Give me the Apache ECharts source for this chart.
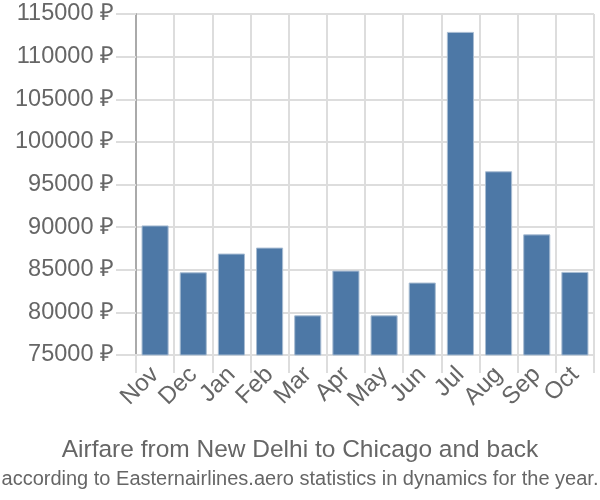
<!DOCTYPE html>
<html>
<head>
<meta charset="utf-8">
<script src="https://cdn.jsdelivr.net/npm/echarts@6/dist/echarts.min.js"></script>
<style>html,body{margin:0;padding:0;background:#fff;}#c{width:600px;height:500px;}</style>
</head>
<body>
<div id="c"></div>
<script>
const categories = ['Nov','Dec','Jan','Feb','Mar','Apr','May','Jun','Jul','Aug','Sep','Oct'];
const fares = [90200, 84700, 86900, 87600, 79650, 84900, 79650, 83500, 112900, 96550, 89150, 84750];
const yMin = 75000, yMax = 115000, yStep = 5000;
const titleText = 'Airfare from New Delhi to Chicago and back';
const subtitleText = 'according to Easternairlines.aero statistics in dynamics for the year.';

const chart = echarts.init(document.getElementById('c'), null, {renderer: 'canvas'});
chart.setOption({
  animation: false,
  textStyle: {fontFamily: 'Liberation Sans, Arial, sans-serif'},
  title: {
    text: titleText,
    subtext: subtitleText,
    left: 'center',
    top: 433,
    itemGap: 6,
    textStyle: {fontSize: 24.5, fontWeight: 'normal', color: '#666'},
    subtextStyle: {fontSize: 20, color: '#666'}
  },
  grid: {left: 136, right: 6, top: 14, bottom: 145, containLabel: false},
  xAxis: {
    type: 'category',
    data: categories,
    axisLine: {show: true, lineStyle: {color: '#ddd', width: 2}},
    axisTick: {show: true, length: 18, lineStyle: {color: '#ddd', width: 2}},
    splitLine: {show: true, lineStyle: {color: '#ddd', width: 2}},
    axisLabel: {rotate: 45, interval: 0, fontSize: 24, color: '#666', margin: 16}
  },
  yAxis: {
    type: 'value',
    min: yMin, max: yMax, interval: yStep,
    axisLine: {show: true, lineStyle: {color: '#aaa', width: 2}},
    axisTick: {show: true, length: 20, lineStyle: {color: '#ddd', width: 2}},
    splitLine: {show: true, lineStyle: {color: '#ddd', width: 2}},
    axisLabel: {fontSize: 23.5, color: '#666', margin: 22, formatter: v => v + ' ₽'}
  },
  series: [{
    type: 'bar',
    data: fares,
    barCategoryGap: '29%',
    itemStyle: {color: '#4d78a6', borderColor: '#a9bdd3', borderWidth: 1}
  }]
});
</script>
</body>
</html>
